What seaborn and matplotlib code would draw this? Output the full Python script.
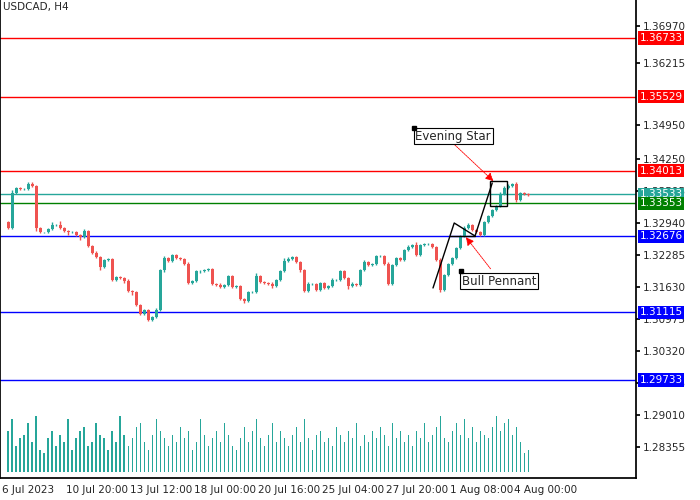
import matplotlib
matplotlib.use("Agg")
import matplotlib.pyplot as plt
import seaborn as sns
import numpy as np

# H4 candles USDCAD, closes (open = previous close)
first_open = 1.32967
closes = [1.32843, 1.33560, 1.33662, 1.33642, 1.33642, 1.33744, 1.33703, 1.32843, 1.32762, 1.32762,
          1.32823, 1.32905, 1.32905, 1.32843, 1.32782, 1.32762, 1.32762, 1.32700, 1.32659, 1.32782,
          1.32475, 1.32332, 1.32250, 1.32045, 1.32188, 1.32209, 1.31779, 1.31840, 1.31820, 1.31758,
          1.31554, 1.31533, 1.31267, 1.31083, 1.31165, 1.30960, 1.31022, 1.31165, 1.31984, 1.32229,
          1.32168, 1.32291, 1.32229, 1.32209, 1.32107, 1.31718, 1.31758, 1.31963, 1.31963, 1.31984,
          1.32004, 1.31697, 1.31677, 1.31636, 1.31677, 1.31861, 1.31636, 1.31656, 1.31390, 1.31349,
          1.31533, 1.31533, 1.31861, 1.31738, 1.31718, 1.31697, 1.31656, 1.31779, 1.31963, 1.32168,
          1.32209, 1.32250, 1.32147, 1.31984, 1.31554, 1.31697, 1.31697, 1.31575, 1.31718, 1.31615,
          1.31656, 1.31779, 1.31779, 1.31963, 1.31820, 1.31656, 1.31697, 1.31677, 1.31984, 1.32147,
          1.32086, 1.32107, 1.32270, 1.32270, 1.32107, 1.31697, 1.32086, 1.32229, 1.32188, 1.32393,
          1.32455, 1.32496, 1.32291, 1.32496, 1.32516, 1.32516, 1.32455, 1.32188, 1.31575, 1.31881,
          1.32107, 1.32229, 1.32434, 1.32680, 1.32843, 1.32905, 1.32803, 1.32762, 1.32700, 1.32966,
          1.33089, 1.33212, 1.33294, 1.33539, 1.33662, 1.33703, 1.33744, 1.33417, 1.33560, 1.33539,
          1.33519]
# wick extensions (price units, x1e-5)
up_wick = [10, 60, 30, 20, 25, 40, 50, 20, 15, 10, 30, 60, 20, 80, 15, 30, 20, 25, 20, 50,
           15, 20, 40, 20, 30, 25, 30, 20, 25, 30, 40, 20, 25, 20, 30, 25, 20, 40, 30, 40,
           30, 25, 20, 20, 30, 40, 20, 30, 20, 25, 30, 20, 25, 40, 20, 30, 20, 25, 30, 20,
           30, 25, 60, 30, 20, 30, 40, 30, 20, 60, 40, 30, 20, 30, 20, 40, 25, 20, 30, 25,
           30, 40, 20, 30, 25, 20, 40, 25, 30, 40, 20, 25, 30, 20, 30, 40, 25, 20, 30, 30,
           40, 30, 60, 30, 20, 25, 30, 20, 40, 20, 30, 25, 20, 30, 40, 40, 30, 20, 25, 30,
           30, 25, 20, 40, 40, 50, 30, 40, 30, 20, 30, 20, 20, 20, 20]
dn_wick = [20, 10, 20, 25, 20, 20, 30, 60, 20, 15, 20, 30, 20, 25, 30, 60, 30, 20, 60, 20,
           30, 20, 25, 60, 30, 20, 30, 25, 20, 30, 20, 60, 30, 25, 30, 20, 30, 20, 30, 40,
           25, 30, 20, 20, 30, 25, 30, 20, 40, 25, 20, 30, 25, 20, 30, 20, 25, 30, 20, 40,
           30, 20, 30, 25, 20, 20, 40, 30, 25, 20, 30, 20, 30, 40, 30, 25, 20, 30, 30, 20,
           25, 20, 30, 20, 30, 60, 20, 25, 20, 30, 25, 30, 20, 25, 30, 30, 20, 25, 30, 20,
           30, 20, 25, 20, 30, 20, 25, 30, 40, 30, 20, 25, 30, 20, 25, 20, 30, 20, 25, 20,
           30, 20, 25, 30, 20, 25, 30, 40, 30, 20, 30, 20, 20, 20, 20]
volume = [22, 28, 14, 18, 20, 26, 16, 30, 12, 10, 18, 22, 14, 20, 16, 28, 12, 18, 22, 24,
          14, 16, 26, 20, 18, 12, 22, 16, 30, 20, 14, 18, 24, 26, 16, 12, 20, 28, 22, 18,
          14, 20, 16, 24, 18, 22, 12, 16, 28, 20, 14, 18, 22, 16, 26, 20, 14, 12, 18, 24,
          16, 22, 28, 18, 14, 20, 26, 16, 22, 18, 14, 20, 24, 16, 28, 18, 12, 20, 22, 16,
          18, 14, 24, 20, 16, 22, 18, 26, 14, 20, 16, 22, 18, 24, 20, 14, 26, 18, 22, 16,
          20, 14, 22, 18, 26, 16, 20, 24, 30, 18, 16, 22, 26, 20, 28, 18, 24, 16, 22, 20,
          18, 24, 30, 22, 26, 28, 20, 24, 16, 10, 12, 8, 8, 8, 8]

red_levels = [1.36733, 1.35529, 1.34013]
blue_levels = [1.32676, 1.31115, 1.29733]
last_price = 1.33533
bid_level = 1.33353
axis_ticks = [1.36970, 1.36215, 1.34950, 1.34250, 1.33595, 1.32940, 1.32285,
              1.31630, 1.30975, 1.30320, 1.29665, 1.29010, 1.28355]
date_labels = ["6 Jul 2023", "10 Jul 20:00", "13 Jul 12:00", "18 Jul 00:00", "20 Jul 16:00",
               "25 Jul 04:00", "27 Jul 20:00", "1 Aug 08:00", "4 Aug 00:00"]
date_pos = [-1.5, 14.5, 30.5, 46.5, 62.5, 78.5, 94.5, 110.5, 126.5]

sns.set_theme(style="white")
plt.rcParams['font.family'] = ['DejaVu Sans']

UP, DN = "#26a69a", "#ef5350"
n = len(closes)
opens = [first_open] + closes[:-1]
xs = np.arange(n)
XLIM = (-2, 157)

fig = plt.figure(figsize=(7, 5), dpi=100)
rect = [0.0, 0.044, 0.909, 0.956]
vax = fig.add_axes(rect)
vax.bar(xs, volume[:n], width=0.28, color=UP, edgecolor=UP, linewidth=0)
vax.set_xlim(*XLIM)
vax.set_ylim(-3, 250)
vax.axis("off")

ax = fig.add_axes(rect, facecolor="none")
for i, (o, c) in enumerate(zip(opens, closes)):
    col = UP if c >= o else DN
    hi = max(o, c) + up_wick[i] * 1e-5
    lo = min(o, c) - dn_wick[i] * 1e-5
    ax.vlines(i, lo, hi, color=col, lw=1, zorder=3)
    ax.bar(i, max(abs(c - o), 0.00004), bottom=min(o, c), width=0.75,
           color=col, edgecolor=col, linewidth=0, zorder=3)

for lv in red_levels:
    ax.axhline(lv, color="red", lw=1, zorder=2)
for lv in blue_levels:
    ax.axhline(lv, color="blue", lw=1, zorder=2)
ax.axhline(last_price, color="#26a69a", lw=1, zorder=2)
ax.axhline(bid_level, color="green", lw=1, zorder=2)

ax.set_xlim(*XLIM)
ax.set_ylim(1.27726, 1.37511)
ax.yaxis.tick_right()
ax.set_yticks(axis_ticks)
ax.set_yticklabels([f"{t:.5f}" for t in axis_ticks], fontsize=7.5)
ax.set_xticks(date_pos)
ax.set_xticklabels(date_labels, fontsize=7.5, ha="left")
ax.tick_params(axis="both", length=3, color="black", direction="out", pad=2)
for s in ["left", "right", "bottom"]:
    ax.spines[s].set_color("black")
ax.spines["top"].set_visible(False)

# price labels on axis
for lv, bg in [(red_levels[0], "red"), (red_levels[1], "red"), (red_levels[2], "red"),
               (last_price, "#26a69a"), (bid_level, "green"),
               (blue_levels[0], "blue"), (blue_levels[1], "blue"), (blue_levels[2], "blue")]:
    ax.text(1.005, lv, f"{lv:.5f}", transform=ax.get_yaxis_transform(), fontsize=7.5,
            color="white", va="center", ha="left",
            bbox=dict(boxstyle="square,pad=0.15", fc=bg, ec="none"), zorder=6, clip_on=False)

ax.text(0.005, 0.995, "USDCAD, H4", transform=ax.transAxes, fontsize=7.5, va="top", ha="left")

# pattern drawings
ax.plot([106.2, 111.5, 116.7, 121], [1.31616, 1.32946, 1.32680, 1.33764], color="black", lw=1, zorder=4)
ax.plot([110.5, 116.7], [1.32680, 1.32680], color="black", lw=1, zorder=4)
ax.add_patch(plt.Rectangle((120.5, 1.33294), 4.2, 0.00512, fill=False, ec="black", lw=1, zorder=5))

ax.annotate("", xy=(121.8, 1.33764), xytext=(109.3, 1.34725),
            arrowprops=dict(arrowstyle="-|>", color="red", lw=0.6, ls=(0, (2, 1))))
ax.annotate("", xy=(114, 1.32700), xytext=(121, 1.31964),
            arrowprops=dict(arrowstyle="-|>", color="red", lw=0.6, ls=(0, (2, 1))))
ax.text(101.8, 1.34725, "Evening Star", fontsize=8.5, va="center", ha="left",
        bbox=dict(boxstyle="square,pad=0.15", fc="white", ec="black", lw=0.8), zorder=6)
ax.plot([101.5], [1.34900], marker="s", color="black", ms=3.5, zorder=7)
ax.text(113.5, 1.31758, "Bull Pennant", fontsize=8.5, va="center", ha="left",
        bbox=dict(boxstyle="square,pad=0.15", fc="white", ec="black", lw=0.8), zorder=6)
ax.plot([113.3], [1.31964], marker="s", color="black", ms=3.5, zorder=7)

fig.savefig("out.png", dpi=100)
